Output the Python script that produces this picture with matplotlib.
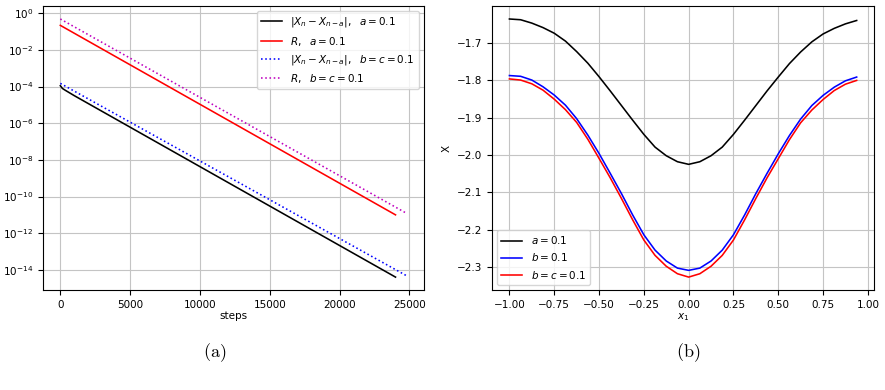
import matplotlib
matplotlib.use("Agg")
import matplotlib.pyplot as plt
import numpy as np
from matplotlib.ticker import NullLocator

# ---- panel (a): convergence vs steps (log scale) ----
steps_diff_a = [0, 150, 400, 1000, 24000]
diff_a = [1.12e-4, 7.9e-5, 6.0e-5, 3.2e-5, 4.0e-15]
steps_R_a = [0, 24000]
R_a = [2.2e-1, 1.0e-11]
steps_diff_bc = [0, 24800]
diff_bc = [1.5e-4, 4.7e-15]
steps_R_bc = [0, 24800]
R_bc = [4.9e-1, 1.2e-11]

# ---- panel (b): X along x1 ----
x1 = [-1.0, -0.9375, -0.875, -0.8125, -0.75, -0.6875, -0.625, -0.5625,
      -0.5, -0.4375, -0.375, -0.3125, -0.25, -0.1875, -0.125, -0.0625,
      0.0, 0.0625, 0.125, 0.1875, 0.25, 0.3125, 0.375, 0.4375,
      0.5, 0.5625, 0.625, 0.6875, 0.75, 0.8125, 0.875, 0.9375]
X_a = [-1.637, -1.639, -1.648, -1.660, -1.675, -1.696, -1.724, -1.755,
       -1.791, -1.829, -1.868, -1.907, -1.945, -1.979, -2.002, -2.018,
       -2.025, -2.018, -2.002, -1.979, -1.945, -1.907, -1.868, -1.829,
       -1.792, -1.756, -1.725, -1.698, -1.677, -1.662, -1.650, -1.641]
X_b = [-1.788, -1.790, -1.800, -1.818, -1.840, -1.867, -1.903, -1.947,
       -1.996, -2.049, -2.103, -2.160, -2.213, -2.254, -2.283, -2.302,
       -2.308, -2.302, -2.283, -2.254, -2.213, -2.160, -2.103, -2.049,
       -1.997, -1.948, -1.904, -1.868, -1.841, -1.819, -1.802, -1.792]
X_bc = [-1.797, -1.800, -1.810, -1.827, -1.851, -1.879, -1.913, -1.958,
        -2.009, -2.061, -2.116, -2.173, -2.227, -2.268, -2.297, -2.317,
        -2.326, -2.317, -2.297, -2.268, -2.227, -2.173, -2.116, -2.061,
        -2.010, -1.959, -1.914, -1.880, -1.852, -1.828, -1.811, -1.801]

plt.rcParams['font.size'] = 7.5
plt.rcParams['mathtext.fontset'] = 'dejavusans'

fig = plt.figure(figsize=(8.85, 3.9), dpi=100)
ax1 = fig.add_axes([0.0486, 0.2564, 0.4305, 0.728])
ax2 = fig.add_axes([0.556, 0.2564, 0.4316, 0.728])

lw = 1.15
ax1.plot(steps_diff_a, diff_a, '-', color='black', lw=lw,
         label=r'$|X_n - X_{n-a}|,\ \ a=0.1$')
ax1.plot(steps_R_a, R_a, '-', color='red', lw=lw,
         label=r'$R,\ \ a=0.1$')
ax1.plot(steps_diff_bc, diff_bc, ':', color='blue', lw=lw,
         label=r'$|X_n - X_{n-a}|,\ \ b=c=0.1$')
ax1.plot(steps_R_bc, R_bc, ':', color='m', lw=lw,
         label=r'$R,\ \ b=c=0.1$')
ax1.set_yscale('log')
ax1.set_yticks([10.0**k for k in range(0, -15, -2)])
ax1.yaxis.set_minor_locator(NullLocator())
ax1.set_xticks([0, 5000, 10000, 15000, 20000, 25000])
ax1.set_xlabel('steps', labelpad=1)
ax1.grid(True, color='#c4c4c4')
ax1.legend(loc='upper right', fontsize=7.5)

ax2.plot(x1, X_a, color='black', lw=lw, label=r'$a=0.1$')
ax2.plot(x1, X_b, color='blue', lw=lw, label=r'$b=0.1$')
ax2.plot(x1, X_bc, color='red', lw=lw, label=r'$b=c=0.1$')
ax2.set_xticks(np.arange(-1.0, 1.01, 0.25))
ax2.set_xlabel(r'$x_1$', labelpad=1)
ax2.set_ylabel('X')
ax2.grid(True, color='#c4c4c4')
ax2.legend(loc='lower left', fontsize=7.5)

fig.text(0.243, 0.097, r'$\mathrm{(a)}$', ha='center', va='center',
         fontsize=13, math_fontfamily='cm')
fig.text(0.777, 0.097, r'$\mathrm{(b)}$', ha='center', va='center',
         fontsize=13, math_fontfamily='cm')

fig.savefig('out.png', dpi=100)
